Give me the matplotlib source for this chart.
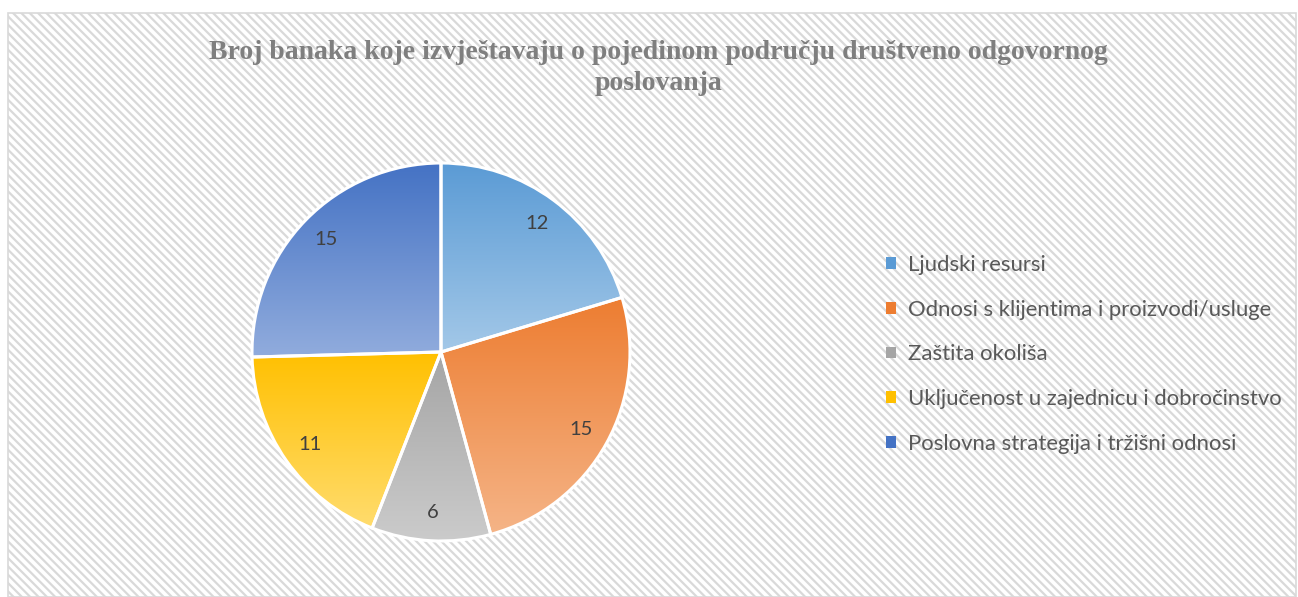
import matplotlib.pyplot as plt
import matplotlib.patches as mpatches
from matplotlib.colors import LinearSegmentedColormap
import numpy as np

plt.rcParams['hatch.linewidth'] = 1.6
plt.rcParams['hatch.color'] = '#e4e4e4'

# podaci
categories = ['Ljudski resursi',
              'Odnosi s klijentima i proizvodi/usluge',
              'Zaštita okoliša',
              'Uključenost u zajednicu i dobročinstvo',
              'Poslovna strategija i tržišni odnosi']
values = [12, 15, 6, 11, 15]
top_colors = ['#5b9bd5', '#ed7d31', '#a5a5a5', '#ffc000', '#4472c4']
bottom_colors = ['#a3c8e8', '#f5b487', '#cbcbcb', '#ffdc6e', '#91acdd']
title = 'Broj banaka koje izvještavaju o pojedinom području društveno odgovornog\nposlovanja'

W, H = 1298, 597
fig = plt.figure(figsize=(W / 100, H / 100), dpi=100)

# pozadina s prugama i okvirom
bg = mpatches.Rectangle((8 / W, 0.5 / H), (W - 10) / W, (H - 13.5) / H,
                        transform=fig.transFigure, facecolor='white',
                        edgecolor='#d9d9d9', linewidth=1.2, hatch='\\\\\\\\',
                        zorder=-5)
fig.patches.append(bg)

# os za pitu
cx, cy, r = 441, 352, 189
ax = fig.add_axes([(cx - r) / W, (H - cy - r) / H, 2 * r / W, 2 * r / H])
ax.set_xlim(-1, 1)
ax.set_ylim(-1, 1)
ax.axis('off')

total = sum(values)
wedges, texts, autotexts = ax.pie(
    values, startangle=90, counterclock=False, radius=1,
    autopct=lambda p: f'{round(p * total / 100)}', pctdistance=0.85,
    wedgeprops=dict(edgecolor='white', linewidth=2.2),
    textprops=dict(fontsize=14.5, color='#404040', family='Lato'))

# gradijent u svakom isječku
grad = np.linspace(0, 1, 256).reshape(-1, 1)
for w, c1, c2 in zip(wedges, top_colors, bottom_colors):
    w.set_facecolor('none')
    w.set_zorder(2)
    ext = w.get_path().get_extents()
    cmap = LinearSegmentedColormap.from_list('g', [c2, c1])
    im = ax.imshow(grad, cmap=cmap, aspect='auto', origin='lower',
                   extent=[ext.x0, ext.x1, ext.y0, ext.y1], zorder=1)
    im.set_clip_path(w)
for t in autotexts:
    t.set_zorder(3)
ax.set_xlim(-1, 1)
ax.set_ylim(-1, 1)

fig.text(658 / W, 1 - 40 / H, title, ha='center', va='top', fontsize=20,
         fontweight='bold', family='Liberation Serif', color='#7f7f7f',
         linespacing=1.3)

handles = [mpatches.Patch(facecolor=c, edgecolor='none') for c in top_colors]
leg = fig.legend(handles, categories, loc='upper left',
                 bbox_to_anchor=(866 / W, 1 - 235 / H), frameon=False,
                 handlelength=0.45, handleheight=0.45, handletextpad=0.55,
                 labelspacing=1.12, prop=dict(family='Lato', size=15.9))
for t in leg.get_texts():
    t.set_color('#595959')

fig.savefig('out.png', dpi=100)
